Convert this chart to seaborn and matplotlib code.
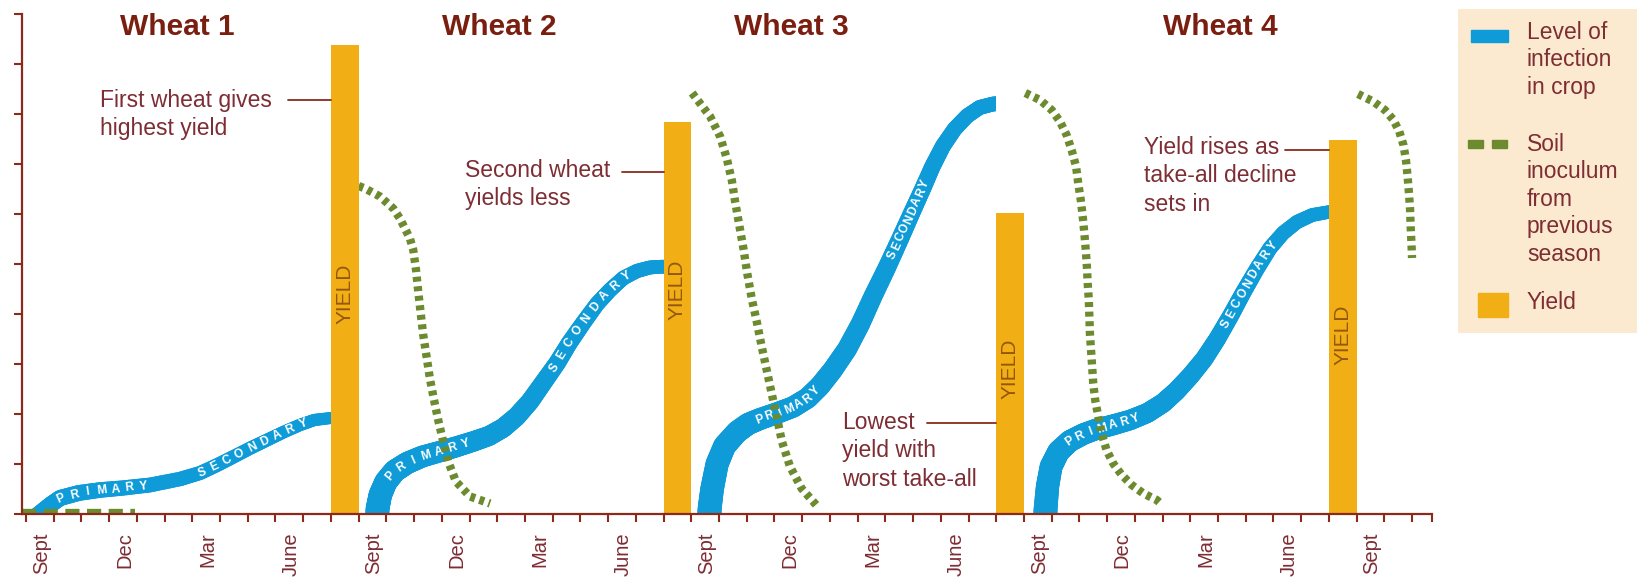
import numpy as np
import matplotlib
matplotlib.use("Agg")
import matplotlib.pyplot as plt
import seaborn as sns
from matplotlib.collections import LineCollection
from matplotlib.patches import Rectangle
from matplotlib.transforms import IdentityTransform

# ---------------- data ----------------
season_titles = ["Wheat 1", "Wheat 2", "Wheat 3", "Wheat 4"]
title_x = [5.45, 17.06, 27.6, 43.1]

month_names = ["Sept", "Dec", "Mar", "June"]
month_offsets = [0, 3, 6, 9]

yield_x = [11.5, 23.5, 35.5, 47.5]
yield_h = [9.38, 7.84, 6.02, 7.48]
yield_label_y = [4.4, 4.48, 2.9, 3.59]

# level of infection in crop (one curve per wheat)
inf1_x = [0.25, 0.87, 1.23, 1.9, 2.67, 3.5, 4.47, 5.56, 6.28, 6.9, 7.47, 8.1, 8.7, 9.3, 9.88, 10.4, 11.0, 11.5]
inf1_y = [-0.1, 0.18, 0.32, 0.42, 0.48, 0.52, 0.58, 0.70, 0.82, 0.98, 1.14, 1.32, 1.48, 1.64, 1.78, 1.88, 1.92, 1.93]
inf2_x = [12.66, 12.68, 12.78, 12.98, 13.3, 13.75, 14.3, 14.94, 15.5, 16.13, 16.7, 17.21, 17.7, 18.18, 18.65,
          19.16, 19.6, 20.1, 20.6, 21.07, 21.55, 22.04, 22.5, 23.0, 23.5]
inf2_y = [-0.3, 0.1, 0.38, 0.64, 0.86, 1.02, 1.15, 1.25, 1.34, 1.45, 1.56, 1.72, 1.95, 2.25, 2.62,
          3.02, 3.42, 3.82, 4.2, 4.48, 4.72, 4.86, 4.93, 4.95, 4.95]
inf3_x = [24.64, 24.66, 24.75, 24.93, 25.2, 25.65, 26.05, 26.48, 27.1, 27.67, 28.2, 28.64, 29.1, 29.62, 30.1,
          30.56, 31.05, 31.53, 31.95, 32.36, 32.7, 33.08, 33.5, 33.95, 34.4, 34.88, 35.2]
inf3_y = [-0.3, 0.1, 0.5, 1.0, 1.36, 1.64, 1.8, 1.9, 2.02, 2.14, 2.32, 2.56, 2.88, 3.3, 3.8,
          4.36, 4.92, 5.5, 6.02, 6.52, 6.95, 7.36, 7.7, 7.96, 8.13, 8.2, 8.21]
inf4_x = [36.76, 36.78, 36.85, 36.98, 37.25, 37.66, 38.15, 38.64, 39.2, 39.83, 40.45, 41.02, 41.5, 42.0, 42.5,
          42.97, 43.45, 43.9, 44.4, 44.88, 45.35, 45.85, 46.4, 47.0, 47.3]
inf4_y = [-0.3, 0.1, 0.55, 0.95, 1.25, 1.46, 1.6, 1.7, 1.78, 1.88, 2.02, 2.22, 2.46, 2.76, 3.1,
          3.5, 3.96, 4.42, 4.9, 5.32, 5.62, 5.84, 5.98, 6.04, 6.05]

# soil inoculum from previous season
soil1_x = [-0.15, 3.95]
soil1_y = [0.02, 0.02]
soil2_x = [12.0, 12.23, 12.77, 13.25, 13.49, 13.67, 13.85, 13.97, 14.07, 14.15, 14.24, 14.33, 14.45, 14.57,
           14.72, 14.87, 15.05, 15.23, 15.51, 16.02, 16.74]
soil2_y = [6.56, 6.51, 6.35, 6.11, 5.91, 5.71, 5.51, 5.28, 4.88, 4.45, 4.01, 3.58, 3.15, 2.71,
           2.28, 1.88, 1.45, 1.05, 0.65, 0.35, 0.21]
soil3_x = [24.03, 24.68, 25.04, 25.28, 25.46, 25.58, 25.73, 25.88, 26.02, 26.18, 26.36, 26.54, 26.72, 26.9,
           27.08, 27.27, 27.56, 27.98, 28.57]
soil3_y = [8.42, 7.95, 7.55, 7.11, 6.68, 6.25, 5.78, 5.31, 4.81, 4.31, 3.85, 3.35, 2.88, 2.41,
           1.95, 1.45, 0.95, 0.51, 0.14]
soil4_x = [36.05, 36.58, 37.0, 37.3, 37.54, 37.72, 37.88, 37.96, 38.05, 38.12, 38.18, 38.23, 38.27, 38.3,
           38.34, 38.36, 38.38, 38.42, 38.46, 38.5, 38.57, 38.68, 38.8, 38.98, 39.22, 39.53, 39.89, 40.31,
           40.79, 40.95]
soil4_y = [8.42, 8.28, 8.08, 7.85, 7.58, 7.28, 6.95, 6.61, 6.28, 5.95, 5.61, 5.28, 4.95, 4.61,
           4.28, 3.95, 3.61, 3.28, 2.95, 2.61, 2.28, 1.95, 1.61, 1.28, 1.01, 0.78, 0.58, 0.41,
           0.28, 0.2]
soil5_x = [48.05, 48.6, 49.02, 49.33, 49.54, 49.69, 49.78, 49.84, 49.89, 49.93, 49.95, 49.98, 50.0]
soil5_y = [8.4, 8.25, 8.08, 7.88, 7.65, 7.38, 7.08, 6.75, 6.41, 6.08, 5.75, 5.41, 5.12]

# stage labels along the infection curves (x from, x to)
primary_span = [(1.05, 4.47), (13.0, 16.1), (26.3, 28.6), (37.5, 40.2)]
secondary_span = [(6.1, 10.25), (18.9, 21.9), (31.2, 32.5), (43.2, 45.1)]

notes = ["First wheat gives\nhighest yield", "Second wheat\nyields less",
         "Lowest\nyield with\nworst take-all", "Yield rises as\ntake-all decline\nsets in"]
note_x = [2.67, 15.84, 29.44, 40.33]
note_top = [8.5, 7.1, 2.06, 7.56]
leader_y = [8.28, 6.84, 1.82, 7.28]
leader_x0 = [9.45, 21.5, 32.5, 45.42]

legend_labels = ["Level of\ninfection\nin crop", "Soil\ninoculum\nfrom\nprevious\nseason", "Yield"]

# ---------------- style ----------------
BLUE = "#0E9BD8"
GREEN = "#6B8B2E"
YELLOW = "#F1AE15"
MAROON = "#8B2A1A"
TITLE_C = "#7A1E10"
TEXT_C = "#7D2D33"
YIELD_TXT = "#94580C"
PEACH = "#FCEAD0"

sns.set_style("white")
plt.rcParams["font.family"] = ["Liberation Sans", "DejaVu Sans"]

W, H = 1637, 581
fig = plt.figure(figsize=(W / 100, H / 100), dpi=100)
ax = fig.add_axes([22 / W, 67 / H, 1410 / W, 500 / H])
x_left, x_right = -0.144, 50.72
ax.set_xlim(x_left, x_right)
ax.set_ylim(0, 10)

# bars
sns.barplot(x=yield_x, y=yield_h, native_scale=True, width=1 / 12, color=YELLOW,
            saturation=1, errorbar=None, orient="x", ax=ax, zorder=3, linewidth=0)
ax.set_xlim(x_left, x_right)
ax.set_ylim(0, 10)


def draw_band(xs, ys, w0, w1, x_end, z=2):
    pts = np.column_stack([xs, ys]).astype(float)
    fine = []
    for a, b in zip(pts[:-1], pts[1:]):
        for t in np.linspace(0, 1, 8, endpoint=False):
            fine.append(a + (b - a) * t)
    fine.append(pts[-1])
    fine = np.array(fine)
    disp = ax.transData.transform(fine)
    L = np.concatenate([[0], np.cumsum(np.hypot(*np.diff(disp, axis=0).T))])
    frac = L / L[-1]
    segs = np.stack([fine[:-1], fine[1:]], axis=1)
    fm = 0.5 * (frac[:-1] + frac[1:])
    widths = w0 + (w1 - w0) * fm
    lc = LineCollection(segs, linewidths=widths, colors=BLUE, capstyle="round",
                        joinstyle="round", zorder=z)
    ax.add_collection(lc)
    clip = Rectangle((xs[0] - 3, 0), x_end - xs[0] + 3, 12, transform=ax.transData)
    lc.set_clip_path(clip)


def letters_along(xs, ys, word, xa, xb, size=8.6):
    pts = ax.transData.transform(np.column_stack([xs, ys]))
    s = np.concatenate([[0], np.cumsum(np.hypot(*np.diff(pts, axis=0).T))])
    s0 = np.interp(xa, xs, s)
    s1 = np.interp(xb, xs, s)
    n = len(word)
    for i, ch in enumerate(word):
        si = s0 + (i + 0.5) * (s1 - s0) / n
        px = np.interp(si, s, pts[:, 0])
        py = np.interp(si, s, pts[:, 1])
        ax_ = np.interp(si - 7, s, pts[:, 0]); ay_ = np.interp(si - 7, s, pts[:, 1])
        bx_ = np.interp(si + 7, s, pts[:, 0]); by_ = np.interp(si + 7, s, pts[:, 1])
        ang = np.degrees(np.arctan2(by_ - ay_, bx_ - ax_))
        ax.text(px, py - 0.5, ch, transform=IdentityTransform(), rotation=ang,
                rotation_mode="anchor", ha="center", va="center", color="white",
                fontsize=size, fontweight="bold", zorder=2.2)


inf_curves = [(inf1_x, inf1_y), (inf2_x, inf2_y), (inf3_x, inf3_y), (inf4_x, inf4_y)]
band_widths = [(12, 8.5), (17.5, 9.5), (17.5, 10.5), (17.5, 9.5)]
for i, (xs, ys) in enumerate(inf_curves):
    x_end = yield_x[i] - 0.5
    draw_band(xs, ys, band_widths[i][0], band_widths[i][1], x_end)
    letters_along(xs, ys, "PRIMARY", *primary_span[i])
    letters_along(xs, ys, "SECONDARY", *secondary_span[i])

# soil inoculum
sns.lineplot(x=soil1_x, y=soil1_y, ax=ax, color=GREEN, linewidth=6, sort=False,
             estimator=None, linestyle=(0, (1.7, 0.9)), zorder=2.5)
for xs, ys in [(soil2_x, soil2_y), (soil3_x, soil3_y), (soil4_x, soil4_y), (soil5_x, soil5_y)]:
    sns.lineplot(x=xs, y=ys, ax=ax, color=GREEN, linewidth=6, sort=False,
                 estimator=None, linestyle=(0, (0.6, 0.55)), zorder=2.5)

# yield labels
for xv, yv in zip(yield_x, yield_label_y):
    ax.text(xv, yv, "YIELD", rotation=90, ha="center", va="center", color=YIELD_TXT,
            fontsize=15, zorder=4)

# titles
for t, xv in zip(season_titles, title_x):
    ax.text(xv, 9.58, t, ha="center", va="baseline", fontsize=21.5, fontweight="bold",
            color=TITLE_C)

# annotations
for txt, xv, yv, ly, lx0, bx in zip(notes, note_x, note_top, leader_y, leader_x0, yield_x):
    ax.text(xv, yv, txt, ha="left", va="top", fontsize=16.5, color=TEXT_C,
            linespacing=1.3, zorder=4)
    ax.plot([lx0, bx - 0.5], [ly, ly], color=MAROON, lw=1.3, zorder=4)

# axes styling
for side in ["top", "right"]:
    ax.spines[side].set_visible(False)
for side in ["left", "bottom"]:
    ax.spines[side].set_color(MAROON)
    ax.spines[side].set_linewidth(1.6)
    ax.spines[side].set_zorder(5)

ax.set_xticks(list(range(0, 51)) + [x_right])
ax.set_xticklabels([])
lab_pos, lab_txt = [], []
for yr in range(5):
    for mo, name in zip(month_offsets, month_names):
        p = yr * 12 + mo + 0.55
        if p < x_right:
            lab_pos.append(p)
            lab_txt.append(name)
ax.set_xticks(lab_pos, labels=lab_txt, minor=True)
ax.set_yticks(range(0, 11))
ax.set_yticklabels([])
ax.tick_params(axis="both", which="major", direction="out", length=5.5, width=1.5,
               color=MAROON, bottom=True, left=True)
ax.tick_params(axis="x", which="minor", length=0, pad=13, labelrotation=90,
               labelsize=14.5, labelcolor=TEXT_C, bottom=True, labelbottom=True)
ax.set_xlabel("")
ax.set_ylabel("")
ax.grid(False)

# legend panel
lx0, lx1, ly0, ly1 = 1458, W, 9, 333
lax = fig.add_axes([lx0 / W, (H - ly1) / H, (lx1 - lx0) / W, (ly1 - ly0) / H])
lax.set_xlim(lx0, lx1)
lax.set_ylim(ly1, ly0)
lax.set_facecolor(PEACH)
lax.set_xticks([])
lax.set_yticks([])
for s in lax.spines.values():
    s.set_visible(False)
lax.add_patch(Rectangle((1471, 30), 37, 12, color=BLUE))
lax.add_patch(Rectangle((1468, 140), 15, 8, color=GREEN))
lax.add_patch(Rectangle((1492, 140), 15, 8, color=GREEN))
lax.add_patch(Rectangle((1478, 293), 30, 24, color=YELLOW))
for txt, yt in zip(legend_labels, [21, 133, 291]):
    lax.text(1527, yt, txt, ha="left", va="top", fontsize=16.5, color=TEXT_C,
             linespacing=1.25)

fig.savefig("out.png", dpi=100)
